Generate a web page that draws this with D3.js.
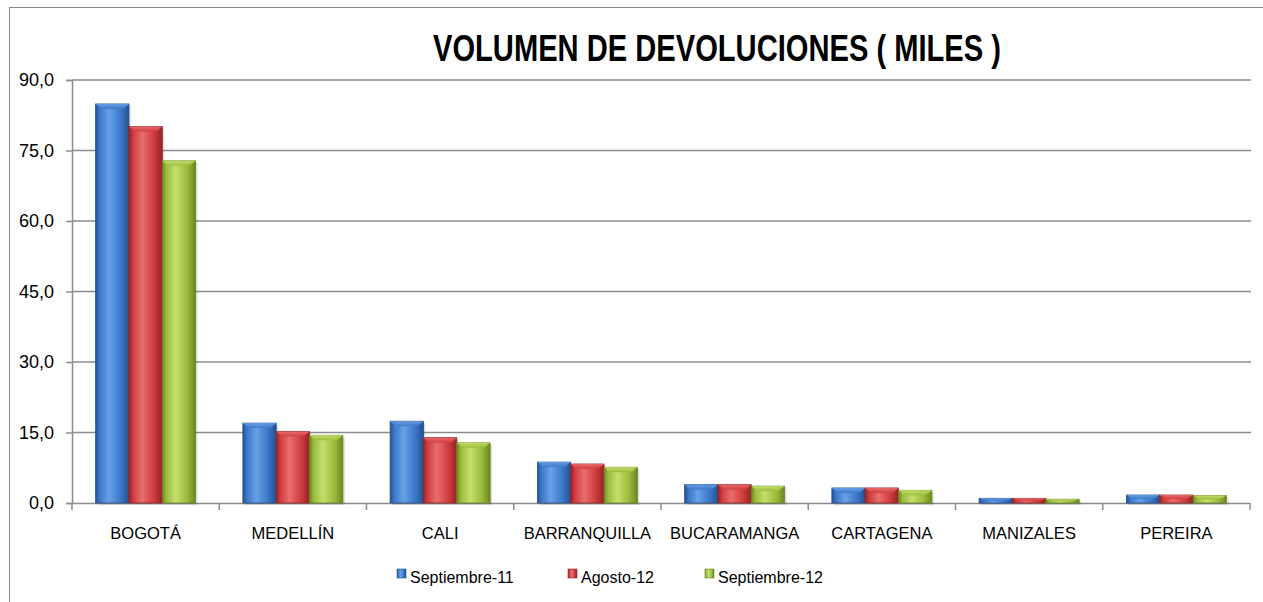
<!DOCTYPE html>
<html>
<head>
<meta charset="UTF-8">
<title>Volumen de devoluciones</title>
<script src="https://d3js.org/d3.v7.min.js"></script>
<style>
  body { margin: 0; background: #fff; }
  text { font-family: "Liberation Sans", Arial, sans-serif; fill: #000; }
</style>
</head>
<body>
<svg width="1263" height="602"></svg>
<script>
var categories = ["BOGOTÁ", "MEDELLÍN", "CALI", "BARRANQUILLA", "BUCARAMANGA", "CARTAGENA", "MANIZALES", "PEREIRA"];
var seriesNames = ["Septiembre-11", "Agosto-12", "Septiembre-12"];
var sep11 = [84.9, 17.0, 17.4, 8.7, 3.9, 3.2, 1.0, 1.7];
var ago12 = [80.1, 15.2, 13.9, 8.3, 3.9, 3.2, 1.0, 1.7];
var sep12 = [72.8, 14.4, 12.8, 7.6, 3.6, 2.7, 0.8, 1.6];
var yTicks = [0, 15, 30, 45, 60, 75, 90];
var colors = [
  {base: "#3b78c9", dark: "#24518f", light: "#6aa0e6"},
  {base: "#d03b3c", dark: "#952325", light: "#ea6e6e"},
  {base: "#9abb3c", dark: "#6a8622", light: "#c4df6d"}
];
var series = [sep11, ago12, sep12];

var svg = d3.select("svg");
var margin = {left: 72, right: 13, top: 80, bottom: 99};

// marco exterior
svg.append("path")
  .attr("d", "M9.5,602 L9.5,7.5 L1263,7.5")
  .attr("fill", "none").attr("stroke", "#8a8a8a").attr("stroke-width", 1);

var x = d3.scaleBand().domain(categories).range([margin.left, 1250]);
var y = d3.scaleLinear().domain([0, 90]).range([503, 80]);
var groupW = 100;
var xs = d3.scaleBand().domain(d3.range(3)).range([0, groupW]);

// degradados
var defs = svg.append("defs");
colors.forEach(function (c, i) {
  var g = defs.append("linearGradient").attr("id", "grad" + i)
    .attr("x1", "0").attr("x2", "1").attr("y1", "0").attr("y2", "0");
  g.append("stop").attr("offset", "0%").attr("stop-color", c.dark);
  g.append("stop").attr("offset", "12%").attr("stop-color", c.base);
  g.append("stop").attr("offset", "40%").attr("stop-color", c.light);
  g.append("stop").attr("offset", "75%").attr("stop-color", c.base);
  g.append("stop").attr("offset", "100%").attr("stop-color", c.dark);
  var gv = defs.append("linearGradient").attr("id", "top" + i)
    .attr("x1", "0").attr("x2", "0").attr("y1", "0").attr("y2", "1");
  gv.append("stop").attr("offset", "0%").attr("stop-color", c.light);
  gv.append("stop").attr("offset", "100%").attr("stop-color", c.base);
});

// lineas de cuadricula
svg.append("g").selectAll("line").data(yTicks.slice(1)).enter().append("line")
  .attr("x1", margin.left).attr("x2", 1251)
  .attr("y1", function (d) { return y(d); }).attr("y2", function (d) { return y(d); })
  .attr("stroke", "#8c8c8c").attr("stroke-width", 1.5);

// eje y
var yAxis = d3.axisLeft(y).tickValues(yTicks).tickSize(6)
  .tickFormat(function (d) { return d3.format(".1f")(d).replace(".", ","); });
var gy = svg.append("g").attr("transform", "translate(" + margin.left + ",0)").call(yAxis);
gy.select(".domain").attr("stroke", "#8c8c8c").attr("stroke-width", 1.5);
gy.selectAll(".tick line").attr("stroke", "#8c8c8c").attr("stroke-width", 1.5);
gy.selectAll(".tick text").attr("font-size", 18).attr("x", -18);

// eje x
var xAxis = d3.axisBottom(x).tickSize(0).tickPadding(34);
var gx = svg.append("g").attr("transform", "translate(0,503)").call(xAxis);
gx.select(".domain").attr("stroke", "#8c8c8c").attr("stroke-width", 1.5);
gx.selectAll(".tick text").attr("font-size", 16.5).attr("dy", "0.1em");
var bounds = categories.map(function (c) { return x(c); }).concat([x(categories[7]) + x.bandwidth()]);
svg.append("g").selectAll("line").data(bounds).enter().append("line")
  .attr("x1", function (d) { return d; }).attr("x2", function (d) { return d; })
  .attr("y1", 503).attr("y2", 510)
  .attr("stroke", "#8c8c8c").attr("stroke-width", 1.5);

// barras
var bars = svg.append("g");
series.forEach(function (vals, si) {
  vals.forEach(function (v, ci) {
    var bx = x(categories[ci]) + (x.bandwidth() - groupW) / 2 + xs(si);
    var bw = xs.bandwidth();
    var by = y(v), bh = y(0) - y(v);
    bars.append("rect").attr("x", bx + 2).attr("y", by + 2).attr("width", bw).attr("height", bh)
      .attr("fill", "#000").attr("opacity", 0.12);
    bars.append("rect").attr("x", bx).attr("y", by).attr("width", bw).attr("height", bh)
      .attr("fill", "url(#grad" + si + ")").attr("stroke", colors[si].dark).attr("stroke-width", 0.8);
    var bev = Math.min(5, bh / 2);
    bars.append("path")
      .attr("d", "M" + bx + "," + by + " L" + (bx + bw) + "," + by + " L" + (bx + bw - 6) + "," + (by + bev) +
        " L" + (bx + 6) + "," + (by + bev) + "Z")
      .attr("fill", "url(#top" + si + ")").attr("opacity", 0.9);
  });
});

// titulo
svg.append("text").attr("x", 717).attr("y", 61).attr("text-anchor", "middle")
  .attr("font-size", 36).attr("font-weight", "bold")
  .attr("textLength", 568).attr("lengthAdjust", "spacingAndGlyphs")
  .text("VOLUMEN DE DEVOLUCIONES ( MILES )");

// leyenda
var legX = [397, 568, 705];
var leg = svg.append("g");
seriesNames.forEach(function (n, i) {
  leg.append("rect").attr("x", legX[i]).attr("y", 569).attr("width", 9).attr("height", 9)
    .attr("fill", "url(#grad" + i + ")").attr("stroke", colors[i].dark).attr("stroke-width", 0.6);
  leg.append("text").attr("x", legX[i] + 13).attr("y", 583).attr("font-size", 16).text(n);
});
</script>
</body>
</html>
